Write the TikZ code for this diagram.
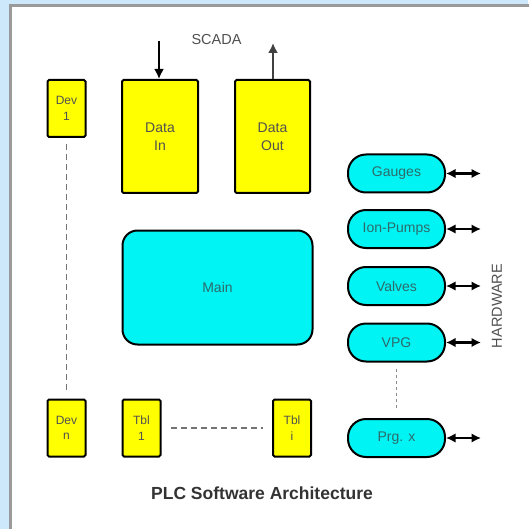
\documentclass[tikz,border=0pt]{standalone}
\usepackage{fontspec}
\setmainfont{Liberation Sans}
\usetikzlibrary{arrows.meta}
\definecolor{skyback}{HTML}{CCE8FA}
\definecolor{frameg}{HTML}{9A9A9A}
\definecolor{boxyellow}{HTML}{FFFF00}
\definecolor{boxcyan}{HTML}{00F4F4}
\definecolor{txtgray}{HTML}{505050}
\definecolor{txtteal}{HTML}{2F6A6A}
\tikzset{
  ybox/.style={draw=black, line width=2pt, fill=boxyellow, rounded corners=1.5pt,
    inner sep=0pt, align=center, text=txtgray, font=\fontsize{14}{18}\selectfont},
  ysmall/.style={draw=black, line width=2pt, fill=boxyellow, rounded corners=1.5pt,
    inner sep=0pt, align=center, text=txtgray, font=\fontsize{12}{15.5}\selectfont,
    minimum width=38pt, minimum height=57pt},
  pill/.style={draw=black, line width=2pt, fill=boxcyan, rounded corners=18pt,
    inner sep=0pt, text=txtteal, font=\fontsize{14}{16}\selectfont,
    minimum width=97pt, minimum height=38pt},
  dashline/.style={draw=black!55, line width=1.4pt, dash pattern=on 6pt off 4pt},
  dotline/.style={draw=black!45, line width=1.3pt, dash pattern=on 3pt off 3pt},
  bus/.style={line width=2.2pt, {Latex[length=9.5pt,width=9.5pt]}-{Latex[length=9.5pt,width=9.5pt]}},
  feed/.style={line width=2.2pt, -{Latex[length=10pt,width=10pt]}},
  plain/.style={text=txtgray, font=\fontsize{14.5}{16}\selectfont, inner sep=0pt},
}
\begin{document}
\begin{tikzpicture}[x=1pt, y=-1pt]
% page background and white panel
\useasboundingbox (0,0) rectangle (528,529);
\fill[skyback] (0,0) rectangle (528,529);
\fill[frameg] (9,4) rectangle (540,540);
\fill[white] (12,7) rectangle (540,540);

% yellow data blocks
\node[ybox, minimum width=76pt, minimum height=113pt] (din) at (160,136.5) {Data\\In};
\node[ybox, minimum width=75pt, minimum height=113pt] (dout) at (272.5,136.5) {Data\\Out};
\node[ysmall] (dev1) at (66.5,108.5) {Dev\\1};
\node[ysmall] (devn) at (66.5,428) {Dev\\n};
\node[ysmall] (tbl1) at (141.5,428) {Tbl\\1};
\node[ysmall] (tbli) at (292,428) {Tbl\\i};

% main block
\node[draw=black, line width=2pt, fill=boxcyan, rounded corners=15pt,
      minimum width=190pt, minimum height=114pt, text=txtteal,
      font=\fontsize{14}{16}\selectfont] (main) at (217.5,287.5) {Main};

% hardware drivers
\node[pill] (gauges) at (396.5,173.5) {Gauges};
\node[pill] (ion) at (396.5,229) {Ion-Pumps};
\node[pill] (valves) at (396.5,286) {Valves};
\node[pill] (vpg) at (396.5,342.5) {VPG};
\node[pill] (prg) at (396.5,438) {Prg. x};

% hardware links
\coordinate (hg) at (481,173.5);
\coordinate (hi) at (481,229);
\coordinate (hv) at (481,286);
\coordinate (hp) at (481,342.5);
\coordinate (hx) at (481,438);
\draw[bus] (gauges.east) -- (hg);
\draw[bus] (ion.east) -- (hi);
\draw[bus] (valves.east) -- (hv);
\draw[bus] (vpg.east) -- (hp);
\draw[bus] (prg.east) -- (hx);

% SCADA links
\node[plain] (scada) at (216.5,40) {SCADA};
\coordinate (sin) at (159,41);
\coordinate (sout) at (273,43);
\draw[feed] (sin) -- (din.north -| sin);
\draw[feed, draw=black!75] (dout.north -| sout) -- (sout);

% continuation lines
\draw[dashline, shorten <=6pt, shorten >=8pt] (dev1.south) -- (devn.north);
\draw[dashline, shorten <=9pt, shorten >=9pt] (tbl1.east) -- (tbli.west);
\draw[dotline, shorten <=6pt, shorten >=9pt] (vpg.south) -- (prg.north);

% side and title labels
\node[plain, rotate=90] (hw) at (497,306) {HARDWARE};
\node[text=black!80, font=\bfseries\fontsize{17.5}{20}\selectfont, inner sep=0pt]
  (title) at (262,493) {PLC Software Architecture};
\end{tikzpicture}
\end{document}
